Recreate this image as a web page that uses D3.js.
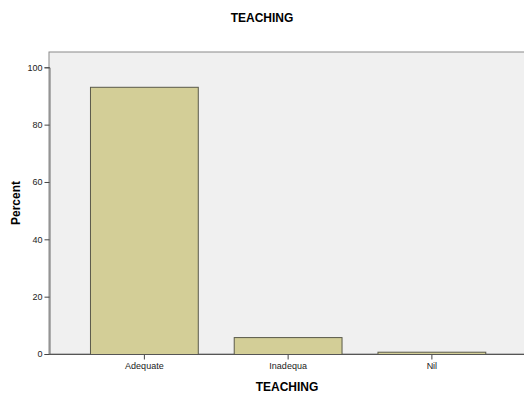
<!DOCTYPE html>
<html><head><meta charset="utf-8">
<script src="https://cdn.jsdelivr.net/npm/d3@7/dist/d3.min.js"></script>
<style>body{margin:0;background:#fff}svg{display:block}</style>
</head><body>
<script>
const categories = ["Adequate", "Inadequa", "Nil"];
const percents = [93.2, 5.9, 0.8];
const yTicks = [0, 20, 40, 60, 80, 100];

const W = 524, H = 397;
const svg = d3.select("body").append("svg").attr("width", W).attr("height", H);
const plot = {left: 49, right: 524, top: 52, bottom: 354};

const y = d3.scaleLinear().domain([0, 100]).range([plot.bottom, 67.3]);
const x = d3.scaleBand().domain(categories).range([72, 503.25]).paddingInner(0.25).paddingOuter(0.125);

svg.append("rect").attr("x", plot.left).attr("y", plot.top)
  .attr("width", plot.right - plot.left + 2).attr("height", plot.bottom - plot.top)
  .attr("fill", "#f0f0f0").attr("stroke", "#8a8a8a").attr("stroke-width", 1);

svg.selectAll("rect.bar").data(percents).join("rect").attr("class", "bar")
  .attr("x", (d, i) => x(categories[i]) + 0.5)
  .attr("y", d => y(d) + 0.5)
  .attr("width", x.bandwidth())
  .attr("height", d => plot.bottom - y(d))
  .attr("fill", "#d3ce97").attr("stroke", "#5a5a4a").attr("stroke-width", 1);

const yAxis = d3.axisLeft(y).tickValues(yTicks).tickSize(5).tickPadding(2);
const gy = svg.append("g").attr("transform", `translate(${plot.left + 0.5},0)`).call(yAxis);
gy.select(".domain").attr("stroke", "#6a6a6a");
gy.selectAll(".tick line").attr("stroke", "#444");
gy.selectAll("text").attr("font-family", "Arial, 'Liberation Sans', sans-serif").attr("font-size", 9).attr("fill", "#222");

const xAxis = d3.axisBottom(x).tickSize(5).tickPadding(3);
const gx = svg.append("g").attr("transform", `translate(0.5,${plot.bottom + 0.5})`).call(xAxis);
gx.select(".domain").remove();
gx.append("line").attr("x1", plot.left - 0.5).attr("x2", plot.right).attr("stroke", "#555");
gx.selectAll(".tick line").attr("stroke", "#444");
gx.selectAll("text").attr("font-family", "Arial, 'Liberation Sans', sans-serif").attr("font-size", 9).attr("fill", "#222");

svg.append("text").attr("x", 262).attr("y", 22).attr("text-anchor", "middle")
  .attr("font-family", "Arial, 'Liberation Sans', sans-serif").attr("font-weight", "bold").attr("font-size", 12)
  .text("TEACHING");
svg.append("text").attr("x", 287).attr("y", 391).attr("text-anchor", "middle")
  .attr("font-family", "Arial, 'Liberation Sans', sans-serif").attr("font-weight", "bold").attr("font-size", 12)
  .text("TEACHING");
svg.append("text").attr("transform", "translate(20,203) rotate(-90)").attr("text-anchor", "middle")
  .attr("font-family", "Arial, 'Liberation Sans', sans-serif").attr("font-weight", "bold").attr("font-size", 12)
  .text("Percent");
</script>
</body></html>
